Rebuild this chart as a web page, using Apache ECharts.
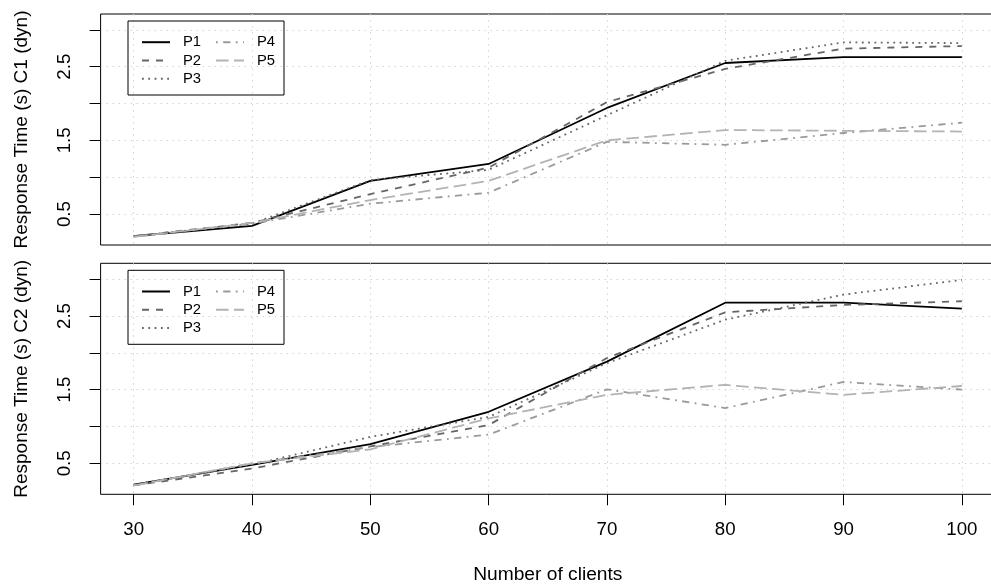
<!DOCTYPE html>
<html>
<head>
<meta charset="utf-8">
<script src="https://cdn.jsdelivr.net/npm/echarts@6/dist/echarts.min.js"></script>
<style>
html,body{margin:0;padding:0;background:#fff;}
#chart{width:991px;height:587px;}
</style>
</head>
<body>
<div id="chart"></div>
<script>
const clients = [30, 40, 50, 60, 70, 80, 90, 100];
const seriesNames = ['P1', 'P2', 'P3', 'P4', 'P5'];

// Panel C1 (top)
const c1P1 = [0.20, 0.34, 0.95, 1.18, 1.94, 2.55, 2.63, 2.63];
const c1P2 = [0.20, 0.38, 0.77, 1.13, 2.02, 2.47, 2.745, 2.78];
const c1P3 = [0.20, 0.37, 0.96, 1.10, 1.84, 2.58, 2.83, 2.82];
const c1P4 = [0.19, 0.37, 0.64, 0.79, 1.48, 1.44, 1.60, 1.74];
const c1P5 = [0.19, 0.38, 0.69, 0.95, 1.50, 1.64, 1.63, 1.62];

// Panel C2 (bottom)
const c2P1 = [0.21, 0.48, 0.76, 1.20, 1.88, 2.68, 2.68, 2.60];
const c2P2 = [0.20, 0.43, 0.73, 1.02, 1.93, 2.55, 2.65, 2.70];
const c2P3 = [0.21, 0.48, 0.86, 1.13, 1.86, 2.45, 2.79, 2.99];
const c2P4 = [0.20, 0.50, 0.72, 0.89, 1.505, 1.25, 1.605, 1.50];
const c2P5 = [0.20, 0.50, 0.69, 1.11, 1.43, 1.565, 1.43, 1.55];

const yTickValues = [0.5, 1.0, 1.5, 2.0, 2.5, 3.0];
const yLabelValues = [0.5, 1.5, 2.5];
const xTickValues = [30, 40, 50, 60, 70, 80, 90, 100];
const yAxisNames = ['Response Time (s) C1 (dyn)', 'Response Time (s) C2 (dyn)'];
const xAxisName = 'Number of clients';

const FONT = "'Liberation Sans', Arial, Helvetica, sans-serif";
const styles = [
  {color: '#000000', type: 'solid'},
  {color: '#666666', type: [7, 7]},
  {color: '#666666', type: [1.8, 4.5]},
  {color: '#9a9a9a', type: [1.8, 5.4, 7.2, 5.4]},
  {color: '#b3b3b3', type: [12.6, 5.4]}
];

const panels = [[c1P1, c1P2, c1P3, c1P4, c1P5], [c2P1, c2P2, c2P3, c2P4, c2P5]];
const gridTops = [14, 263.3];
const gridH = 231;

const grids = gridTops.map(t => ({
  left: 100.6, top: t, width: 894.4, height: gridH,
  show: true, borderColor: '#000', borderWidth: 1, backgroundColor: 'transparent',
  containLabel: false, outerBoundsMode: 'none'
}));

const gridLineStyle = {color: '#d3d3d3', width: 1, type: [1.5, 4.5]};

const xAxes = [0, 1].map(i => ({
  type: 'value', gridIndex: i, min: 27.2, max: 102.8,
  axisLine: {show: false},
  axisTick: {show: i === 1, length: 11, customValues: xTickValues, lineStyle: {color: '#000', width: 1}},
  axisLabel: {show: i === 1, customValues: xTickValues, margin: 26, fontSize: 18.7, color: '#000', fontFamily: FONT},
  splitLine: {show: true, lineStyle: gridLineStyle},
  name: i === 1 ? xAxisName : '',
  nameLocation: 'middle', nameGap: 71, nameMoveOverlap: false,
  nameTextStyle: {fontSize: 19.2, color: '#000', fontFamily: FONT}
}));

const yAxes = [0, 1].map(i => ({
  type: 'value', gridIndex: i, min: 0.08, max: 3.215,
  axisLine: {show: false},
  axisTick: {show: true, length: 11, customValues: yTickValues, lineStyle: {color: '#000', width: 1}},
  axisLabel: {show: true, customValues: yLabelValues, rotate: 90, margin: 26, fontSize: 18.7, color: '#000', fontFamily: FONT,
    formatter: v => v.toFixed(1)},
  splitLine: {show: true, lineStyle: gridLineStyle},
  name: yAxisNames[i], nameLocation: 'middle', nameRotate: 90, nameGap: 69, nameMoveOverlap: false,
  nameTextStyle: {fontSize: 19, color: '#000', fontFamily: FONT}
}));

const series = [];
panels.forEach((vals, p) => {
  vals.forEach((arr, k) => {
    series.push({
      name: seriesNames[k], type: 'line', xAxisIndex: p, yAxisIndex: p,
      data: clients.map((c, j) => [c, arr[j]]),
      symbol: 'none', showSymbol: false, smooth: false, silent: true,
      lineStyle: {color: styles[k].color, width: 1.8, type: styles[k].type},
      itemStyle: {color: styles[k].color},
      animation: false
    });
  });
});

const legends = [];
const graphics = [];
gridTops.forEach((t, p) => {
  const off = t - 14;
  const common = {
    orient: 'vertical', padding: 0, itemWidth: 28, itemHeight: 10, itemGap: 3.3,
    selectedMode: false,
    itemStyle: {opacity: 0, borderWidth: 0},
    textStyle: {fontSize: 14.8, color: '#000', fontFamily: FONT, lineHeight: 14, padding: [0, 0, 0, 8]}
  };
  legends.push(Object.assign({}, common, {data: ['P1', 'P2', 'P3'], left: 141, top: 34.7 + off}));
  legends.push(Object.assign({}, common, {data: ['P4', 'P5'], left: 215, top: 34.7 + off}));
  graphics.push({type: 'rect', shape: {x: 128, y: 21 + off, width: 156, height: 74},
    style: {fill: null, stroke: '#000', lineWidth: 1}, z: 100, silent: true});
});

const chart = echarts.init(document.getElementById('chart'), null, {renderer: 'canvas'});
chart.setOption({
  animation: false,
  backgroundColor: '#fff',
  textStyle: {fontFamily: FONT},
  grid: grids,
  xAxis: xAxes,
  yAxis: yAxes,
  legend: legends,
  graphic: graphics,
  series: series
});
</script>
</body>
</html>
